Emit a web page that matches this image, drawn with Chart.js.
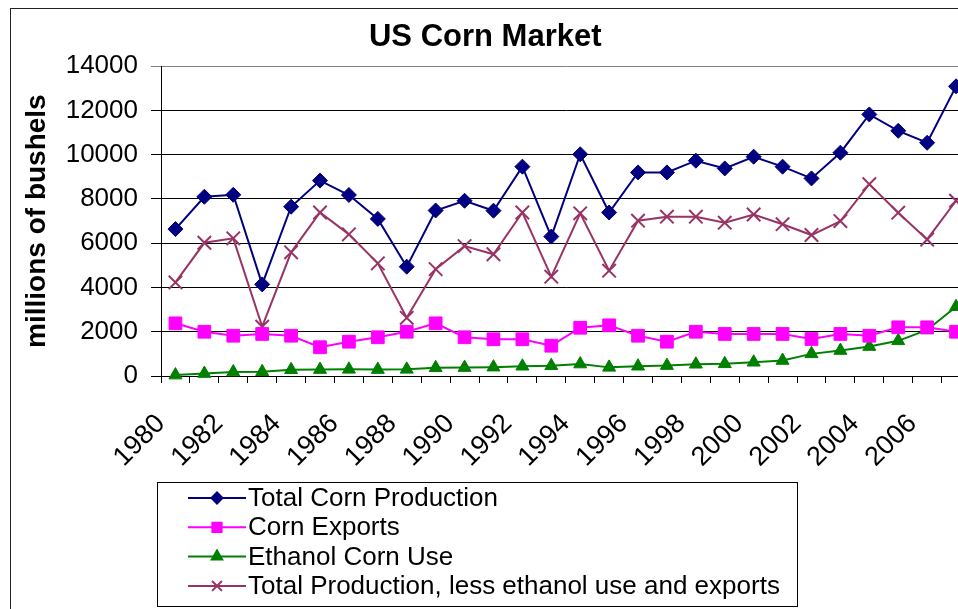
<!DOCTYPE html>
<html>
<head>
    <title>US Corn Market</title>
    <script src="https://cdn.jsdelivr.net/npm/chart.js@4.4.0/dist/chart.umd.min.js"></script>
    <style>
        html, body { margin: 0; padding: 0; overflow: hidden; background: #fff; }
        canvas { display: block; }
    </style>
</head>
<body>
    <canvas id="myChart" width="985" height="609"></canvas>
    <script>
        // years on the x axis
        const years = [1980, 1981, 1982, 1983, 1984, 1985, 1986, 1987, 1988, 1989,
                       1990, 1991, 1992, 1993, 1994, 1995, 1996, 1997, 1998, 1999,
                       2000, 2001, 2002, 2003, 2004, 2005, 2006, 2007];

        // millions of bushels
        const totalProduction = [6640, 8100, 8190, 4140, 7650, 8830, 8180, 7100, 4940, 7480,
                                 7920, 7470, 9460, 6300, 10020, 7390, 9200, 9200, 9730, 9380,
                                 9910, 9460, 8930, 10090, 11820, 11080, 10540, 13090];
        const cornExports = [2380, 2000, 1820, 1900, 1820, 1300, 1550, 1750, 2000, 2380,
                             1750, 1660, 1660, 1370, 2180, 2290, 1820, 1550, 2000, 1900,
                             1900, 1900, 1670, 1900, 1820, 2200, 2200, 2000];
        const ethanolUse = [40, 110, 180, 190, 280, 290, 300, 290, 300, 370,
                            380, 400, 440, 460, 540, 390, 440, 470, 530, 550,
                            620, 700, 1000, 1150, 1330, 1590, 2080, 3130];
        const productionLess = [4230, 6020, 6220, 2230, 5590, 7390, 6400, 5090, 2630, 4830,
                                5870, 5500, 7390, 4490, 7350, 4760, 7020, 7200, 7200, 6930,
                                7300, 6860, 6370, 7000, 8670, 7380, 6170, 7920];

        const yTicks = [0, 2000, 4000, 6000, 8000, 10000, 12000, 14000];

        Chart.defaults.font.family = '"Liberation Sans", Arial, sans-serif';
        Chart.defaults.color = '#000';

        var ctx = document.getElementById('myChart').getContext('2d');

        // outer frame of the chart object (cut off on the right and bottom)
        const frame = {
            id: 'frame',
            beforeDraw(chart) {
                const c = chart.ctx;
                c.save();
                c.fillStyle = '#fff';
                c.fillRect(0, 0, chart.width, chart.height);
                c.restore();
            },
            afterDraw(chart) {
                const c = chart.ctx;
                c.save();
                c.strokeStyle = '#222';
                c.lineWidth = 1;
                c.strokeRect(10.5, 8.5, chart.width + 20, chart.height + 20);
                c.restore();
            }
        };

        // boxed legend, one series per row
        const boxLegend = {
            id: 'boxLegend',
            afterDraw(chart) {
                const c = chart.ctx;
                c.save();
                c.strokeStyle = '#000';
                c.lineWidth = 1;
                c.strokeRect(157.5, 482.5, 640, 124);
                c.font = '26px "Liberation Sans", Arial, sans-serif';
                c.textBaseline = 'middle';
                c.textAlign = 'left';
                chart.data.datasets.forEach((ds, i) => {
                    const y = 498 + i * 29.3;
                    c.strokeStyle = ds.borderColor;
                    c.lineWidth = 2;
                    c.beginPath();
                    c.moveTo(188, y);
                    c.lineTo(246, y);
                    c.stroke();
                    c.fillStyle = ds.borderColor;
                    c.strokeStyle = ds.borderColor;
                    Chart.helpers.drawPoint(c, {
                        pointStyle: ds.pointStyle,
                        radius: ds.legendRadius,
                        borderWidth: ds.pointBorderWidth,
                        rotation: 0
                    }, 217, y);
                    c.fillStyle = '#000';
                    c.fillText(ds.label, 248, y + 1);
                });
                c.restore();
            }
        };

        var myChart = new Chart(ctx, {
            type: 'line',
            data: {
                labels: years,
                datasets: [{
                    label: 'Total Corn Production',
                    data: totalProduction,
                    borderColor: '#000080',
                    backgroundColor: '#000080',
                    pointStyle: 'rectRot',
                    pointRadius: 7.5,
                    pointBorderWidth: 1,
                    legendRadius: 5.5
                }, {
                    label: 'Corn Exports',
                    data: cornExports,
                    borderColor: '#ff00ff',
                    backgroundColor: '#ff00ff',
                    pointStyle: 'rect',
                    pointRadius: 9,
                    pointBorderWidth: 1,
                    legendRadius: 6.5
                }, {
                    label: 'Ethanol Corn Use',
                    data: ethanolUse,
                    borderColor: '#008000',
                    backgroundColor: '#008000',
                    pointStyle: 'triangle',
                    pointRadius: 7.5,
                    pointBorderWidth: 1,
                    legendRadius: 6
                }, {
                    label: 'Total Production, less ethanol use and exports',
                    data: productionLess,
                    borderColor: '#993366',
                    backgroundColor: '#993366',
                    pointStyle: 'crossRot',
                    pointRadius: 9.5,
                    pointBorderWidth: 2,
                    legendRadius: 7
                }]
            },
            options: {
                responsive: false,
                animation: false,
                layout: { padding: { left: 0, right: 14.5, top: 0, bottom: 0 } },
                elements: {
                    line: { borderWidth: 2, tension: 0, fill: false },
                    point: { hoverRadius: 8 }
                },
                datasets: { line: { clip: false } },
                scales: {
                    x: {
                        offset: true,
                        afterFit(scale) {
                            scale.height = 233;
                            scale.paddingRight = 0;
                        },
                        grid: { offset: true, drawOnChartArea: false, drawTicks: true, tickLength: 7, color: '#000' },
                        border: { color: '#000', width: 1 },
                        ticks: {
                            autoSkip: false,
                            minRotation: 45,
                            maxRotation: 45,
                            labelOffset: -14.5,
                            padding: 25,
                            font: { size: 27 },
                            color: '#000',
                            callback: (v, i) => (i % 2 === 0 ? String(years[i]) : '')
                        }
                    },
                    y: {
                        min: yTicks[0],
                        max: yTicks[yTicks.length - 1],
                        afterFit(scale) { scale.width = 161; },
                        afterBuildTicks(scale) { scale.ticks = yTicks.map(v => ({ value: v })); },
                        grid: {
                            tickLength: 10,
                            color: c => (c.tick && c.tick.value === 14000 ? '#808080' : '#000')
                        },
                        border: { color: '#000', width: 1 },
                        ticks: {
                            padding: 13,
                            font: { size: 26 },
                            color: '#000',
                            callback: v => String(v)
                        },
                        title: {
                            display: true,
                            text: 'millions of bushels',
                            font: { size: 28, weight: 'bold' },
                            color: '#000',
                            padding: { top: 20, bottom: 0 }
                        }
                    }
                },
                plugins: {
                    legend: { display: false },
                    tooltip: { enabled: false },
                    title: {
                        display: true,
                        text: 'US Corn Market',
                        font: { size: 31, weight: 'bold' },
                        color: '#000',
                        padding: { top: 19, bottom: 10 }
                    }
                }
            },
            plugins: [frame, boxLegend]
        });
    </script>
</body>
</html>
